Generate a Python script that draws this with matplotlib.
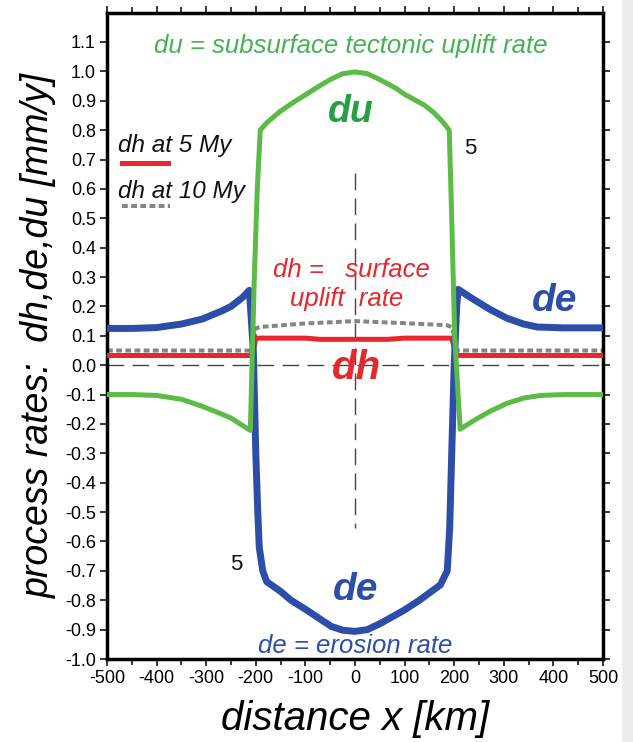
import matplotlib
matplotlib.use('Agg')
import matplotlib.pyplot as plt
from matplotlib.patches import Rectangle
from matplotlib.ticker import MultipleLocator, FormatStrFormatter

plt.rcParams['font.family'] = ['Liberation Sans', 'DejaVu Sans']
plt.rcParams['axes.unicode_minus'] = False
plt.rcParams['lines.scale_dashes'] = False

# du: subsurface tectonic uplift rate (green)
du_x = [-500, -450, -400, -350, -308, -268, -250, -227, -211, -203, -197, -191, -178,
        -150, -121, -100, -72, -50, -25, 0, 25, 50, 83, 100, 140, 160, 176,
        190, 195, 201, 212, 238, 272, 306, 340, 374, 420, 500]
du_y = [-0.100, -0.100, -0.103, -0.116, -0.140, -0.167, -0.180, -0.205, -0.222, 0.30, 0.60, 0.80, 0.825,
        0.865, 0.898, 0.920, 0.950, 0.972, 0.992, 0.998, 0.992, 0.972, 0.942, 0.922, 0.885, 0.858, 0.830,
        0.80, 0.50, 0.10, -0.218, -0.190, -0.157, -0.130, -0.112, -0.103, -0.100, -0.100]

# de: erosion rate (blue)
de_x = [-500, -450, -400, -350, -308, -268, -250, -227, -213, -205, -200, -196, -193, -186, -178,
        -150, -129, -97, -48, -25, 0, 25, 50, 99, 130, 150, 172,
        186, 191, 195, 200, 205, 208, 238, 272, 306, 340, 367, 420, 500]
de_y = [0.125, 0.125, 0.128, 0.140, 0.157, 0.185, 0.200, 0.230, 0.255, 0.05, -0.30, -0.50, -0.62, -0.70, -0.737,
        -0.770, -0.800, -0.834, -0.889, -0.902, -0.906, -0.900, -0.880, -0.834, -0.800, -0.775, -0.748,
        -0.70, -0.55, -0.30, 0.00, 0.20, 0.258, 0.225, 0.190, 0.160, 0.140, 0.130, 0.127, 0.127]

# dh at 5 My (red)
dh5_x = [-500, -210, -205, -200, -100, -70, 65, 100, 195, 200, 205, 500]
dh5_y = [0.033, 0.033, 0.050, 0.092, 0.092, 0.088, 0.088, 0.092, 0.092, 0.060, 0.033, 0.033]

# dh at 10 My (gray dashed)
dh10_x = [-500, -210, -205, -200, -192, -100, 0, 100, 185, 195, 200, 205, 500]
dh10_y = [0.050, 0.050, 0.060, 0.125, 0.130, 0.142, 0.150, 0.143, 0.136, 0.130, 0.100, 0.050, 0.050]

x_ticks = [-500, -400, -300, -200, -100, 0, 100, 200, 300, 400, 500]
y_ticks = [-1.0, -0.9, -0.8, -0.7, -0.6, -0.5, -0.4, -0.3, -0.2, -0.1, 0.0,
           0.1, 0.2, 0.3, 0.4, 0.5, 0.6, 0.7, 0.8, 0.9, 1.0, 1.1]

GREEN = '#5cbb47'
GREEN_TXT = '#45b353'
GREEN_BIG = '#22a043'
BLUE = '#2d4ea8'
RED = '#e8262d'
GRAY = '#858585'

fig = plt.figure(figsize=(6.33, 7.42), dpi=100)
fig.patches.append(Rectangle((622 / 633, 0), 11 / 633, 1, transform=fig.transFigure,
                             facecolor='#ececec', edgecolor='none', zorder=0))
ax = fig.add_axes([107 / 633, 83 / 742, 496 / 633, 646.4 / 742])

# reference lines
ax.axhline(0, color='#444444', lw=1.0, dashes=(12, 6), zorder=1)
ax.plot([0, 0], [0.653, -0.555], color='#444444', lw=1.0, dashes=(12, 6), zorder=1)

ax.plot(dh10_x, dh10_y, color=GRAY, lw=2.9, dashes=(4.2, 2.4), zorder=2)
ax.plot(dh5_x, dh5_y, color=RED, lw=3.6, zorder=3)
ax.plot(de_x, de_y, color=BLUE, lw=5.0, solid_joinstyle='round', zorder=4)
ax.plot(du_x, du_y, color=GREEN, lw=3.6, solid_joinstyle='round', zorder=5)

# legend drawn by hand
ax.plot([-470, -377], [0.687, 0.687], color=RED, lw=3.6)
ax.plot([-470, -373], [0.541, 0.541], color=GRAY, lw=2.9, dashes=(4.2, 2.4))
ax.text(-478, 0.725, 'dh at 5 My', fontsize=17.5, style='italic', color='#111111')
ax.text(-478, 0.570, 'dh at 10 My', fontsize=17.5, style='italic', color='#111111')

# annotations
ax.text(-9, 1.064, 'du = subsurface tectonic uplift rate', fontsize=18.5, style='italic',
        color=GREEN_TXT, ha='center', va='baseline')
ax.text(-8, 0.828, 'du', fontsize=27, style='italic', weight='bold', color=GREEN_BIG,
        ha='center', va='baseline')
ax.text(232, 0.737, '5', fontsize=16, ha='center', va='center', color='#111111')
ax.text(-239, -0.678, '5', fontsize=16, ha='center', va='center', color='#111111')
ax.text(-165, 0.300, 'dh =   surface', fontsize=18.5, style='italic', color=RED, va='baseline')
ax.text(-131, 0.200, 'uplift  rate', fontsize=18.5, style='italic', color=RED, va='baseline')
ax.text(3, -0.048, 'dh', fontsize=29, style='italic', weight='bold', color=RED,
        ha='center', va='baseline')
ax.text(402, 0.185, 'de', fontsize=28, style='italic', weight='bold', color=BLUE,
        ha='center', va='baseline')
ax.text(1, -0.800, 'de', fontsize=28, style='italic', weight='bold', color=BLUE,
        ha='center', va='baseline')
ax.text(1, -0.978, 'de = erosion rate', fontsize=18.5, style='italic', color=BLUE,
        ha='center', va='baseline')

ax.set_xlim(-500, 500)
ax.set_ylim(-1.0, 1.2)
ax.set_xticks(x_ticks)
ax.set_yticks(y_ticks)
ax.xaxis.set_minor_locator(MultipleLocator(50))
ax.yaxis.set_major_formatter(FormatStrFormatter('%.1f'))
ax.tick_params(axis='both', which='major', direction='out', length=5, width=1.1,
               labelsize=13, top=True, right=True, pad=3)
ax.tick_params(axis='x', which='minor', direction='out', length=4, width=1.1, top=True)
for s in ax.spines.values():
    s.set_linewidth(2.5)

ax.set_xlabel('distance x [km]', fontsize=29, style='italic', labelpad=9)
ax.set_ylabel('process rates:  dh,de,du [mm/y]', fontsize=27, style='italic', labelpad=6)

plt.savefig('out.png', dpi=100)
